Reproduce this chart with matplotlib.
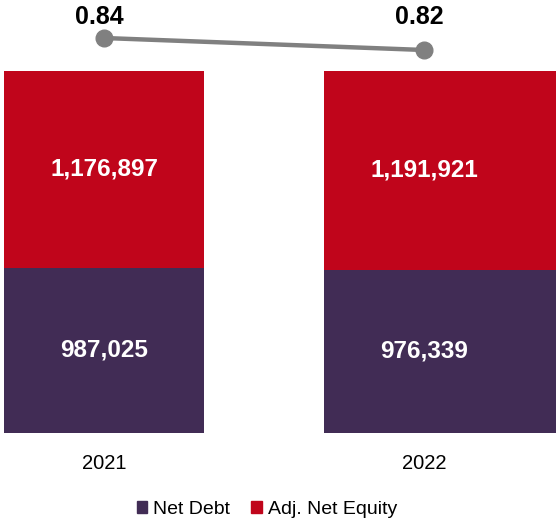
import matplotlib
matplotlib.use('Agg')
import matplotlib.pyplot as plt
from matplotlib.patches import Patch

years = ['2021', '2022']
net_debt = [987025, 976339]
adj_equity = [1176897, 1191921]
ratio = [0.84, 0.82]

c_debt = '#412C55'
c_equity = '#C0051B'

# 100% stacked shares
totals = [d + e for d, e in zip(net_debt, adj_equity)]
debt_share = [d / t for d, t in zip(net_debt, totals)]
equity_share = [e / t for e, t in zip(adj_equity, totals)]

fig = plt.figure(figsize=(5.56, 5.22), dpi=100)
ax = fig.add_axes([0, 89 / 522, 1, 433 / 522])

x = list(range(len(years)))
lefts = [i - 0.3125 for i in x]
widths = [0.625, 0.8]

ax.bar(lefts, debt_share, width=widths, align='edge', color=c_debt)
ax.bar(lefts, equity_share, width=widths, align='edge', bottom=debt_share, color=c_equity)

for i in x:
    ax.text(i, debt_share[i] / 2, f'{net_debt[i]:,}', ha='center', va='center',
            color='white', fontsize=17.5, fontweight='bold', family='Liberation Sans')
    ax.text(i, debt_share[i] + equity_share[i] / 2, f'{adj_equity[i]:,}', ha='center',
            va='center', color='white', fontsize=17.5, fontweight='bold', family='Liberation Sans')

ax.set_xlim(-104 / 320, 452 / 320)
ax.set_ylim(0, 1 + 71 / 362)
ax.set_xticks(x)
ax.set_xticklabels(years, fontsize=14.5, family='Liberation Sans')
ax.tick_params(axis='x', length=0, pad=15)
ax.set_yticks([])
for s in ax.spines.values():
    s.set_visible(False)

ax2 = ax.twinx()
ax2.plot(x, ratio, color='#808080', linewidth=3.2, marker='o', markersize=12,
         solid_capstyle='round')
for i in x:
    ax2.annotate(f'{ratio[i]:.2f}', (i, 0), xycoords=('data', 'axes fraction'),
                 xytext=(-5, 416), textcoords='offset pixels',
                 ha='center', va='center', fontsize=18, fontweight='bold',
                 family='Liberation Sans', color='black')
ax2.set_ylim(0.84 - 395 / 600, 0.84 + 38 / 600)
ax2.set_yticks([])
for s in ax2.spines.values():
    s.set_visible(False)

handles = [Patch(color=c_debt, label='Net Debt'), Patch(color=c_equity, label='Adj. Net Equity')]
fig.legend(handles=handles, loc='lower center', bbox_to_anchor=(0.48, -0.025), ncol=2,
           frameon=False, prop={'family': 'Liberation Sans', 'size': 14},
           handlelength=0.55, handleheight=0.55, handletextpad=0.3, columnspacing=1.1)

fig.savefig('out.png', dpi=100)
